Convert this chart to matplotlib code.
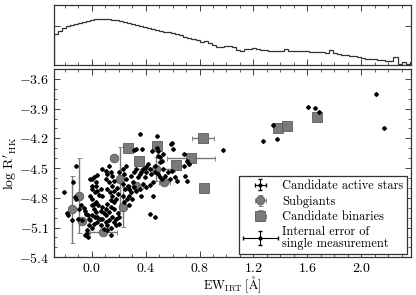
import numpy as np
import matplotlib
matplotlib.use("Agg")
import matplotlib.pyplot as plt
from matplotlib.legend_handler import HandlerErrorbar
from matplotlib.ticker import MultipleLocator, NullFormatter, LogLocator

plt.rcParams['font.family'] = ['cmr10', 'DejaVu Serif']
plt.rcParams['mathtext.fontset'] = 'cm'
plt.rcParams['axes.formatter.use_mathtext'] = True
plt.rcParams['axes.unicode_minus'] = True

# ---------------- data ----------------
hist_start = -0.28
hist_width = 0.03
hist_counts = [40, 58, 80, 100, 120, 136, 150, 170, 190, 212,
               225, 236, 241, 232, 215, 196, 178, 160, 146, 130,
               115, 102, 92, 82, 72, 64, 58, 52, 47, 42,
               38, 33, 29, 25, 22, 19, 15, 17, 14, 11,
               8, 8.5, 9, 9, 8.5, 6, 5.5, 6.5, 7, 7.5,
               7, 6, 6, 5, 5, 5, 5, 7, 5.5, 5.5,
               5, 5, 5, 4.6, 4.5, 4.5, 4.4, 4.3, 6, 4,
               3.7, 3.4, 3.2, 3, 2.8, 2.6, 2.2, 2, 2, 1.9,
               1.8, 1.7, 1.6, 1.6, 2.6, 1.05, 1.4, 1.05, 1.4, 1.1]

active_ew = [-0.204, -0.118, -0.141, -0.128, -0.116, -0.186, -0.179, -0.148, -0.103, -0.073,
             -0.093, -0.078, -0.060, -0.048, -0.040, -0.028, -0.023, -0.010, -0.023, 0.003,
             -0.035, -0.048, -0.028, -0.035, -0.010, 0.003, 0.015, 0.040, 0.028, 0.003,
             0.033, 0.003, 0.023, 0.040, 0.065, 0.053, 0.078, -0.010, 0.003, 0.028,
             0.015, 0.048, 0.073, 0.003, 0.015, 0.033, 0.065, 0.091, 0.103, 0.040,
             0.058, 0.078, 0.103, 0.128, 0.116, 0.015, 0.040, 0.065, 0.091, 0.116,
             0.141, 0.003, 0.023, 0.078, 0.103, 0.116, 0.128, 0.141, 0.153, 0.166,
             0.103, 0.128, 0.153, 0.184, 0.166, 0.191, 0.116, 0.133, 0.153, 0.179,
             0.141, 0.166, 0.116, 0.141, 0.166, 0.191, 0.153, 0.179, 0.204, 0.103,
             0.128, 0.166, 0.204, 0.179, 0.141, 0.204, 0.229, 0.241, 0.254, 0.229,
             0.267, 0.249, 0.279, 0.292, 0.304, 0.317, 0.330, 0.279, 0.259, 0.299,
             0.229, 0.241, 0.274, 0.292, 0.317, 0.330, 0.342, 0.355, 0.367, 0.380,
             0.392, 0.400, 0.405, 0.418, 0.430, 0.443, 0.380, 0.405, 0.430, 0.455,
             0.355, 0.367, 0.254, 0.468, 0.468, 0.493, 0.506, 0.518, 0.531, 0.543,
             0.569, 0.581, 0.594, 0.619, 0.636, 0.506, 0.518, 0.506, 0.526, 0.486,
             0.455, 0.430, 0.468, 0.594, 0.586, 0.606, 0.682, 0.707, 0.682, 0.719,
             0.694, 0.707, 0.360, 0.481, 0.312, 0.330, 0.370, 0.445, 0.488, 0.491,
             0.971, 1.273, 1.349, 1.376, 1.605, 1.658, 1.688, 2.108, 2.166]
active_logr = [-4.737, -4.483, -4.643, -4.793, -4.810, -4.950, -4.977, -5.027, -5.017, -5.027,
               -4.910, -4.877, -4.900, -4.937, -4.960, -4.977, -5.010, -5.027, -5.077, -5.103,
               -5.127, -5.177, -5.193, -5.153, -4.610, -4.610, -4.593, -4.570, -4.643, -4.677,
               -4.677, -4.710, -4.743, -4.727, -4.710, -4.770, -4.777, -4.777, -4.810, -4.843,
               -4.860, -4.877, -4.893, -4.877, -4.910, -4.943, -4.937, -4.950, -4.977, -4.993,
               -5.010, -5.017, -5.043, -5.027, -5.077, -5.060, -5.043, -5.077, -5.110, -5.127,
               -5.103, -4.977, -4.993, -4.510, -4.527, -4.560, -4.477, -4.543, -4.583, -4.627,
               -4.610, -4.643, -4.677, -4.703, -4.727, -4.760, -4.710, -4.743, -4.777, -4.810,
               -4.827, -4.843, -4.860, -4.893, -4.917, -4.950, -4.993, -5.010, -4.993, -4.910,
               -4.943, -5.043, -5.060, -5.077, -5.177, -4.543, -4.510, -4.560, -4.610, -4.660,
               -4.677, -4.710, -4.710, -4.743, -4.643, -4.693, -4.727, -4.777, -4.810, -4.810,
               -4.777, -4.843, -4.877, -4.577, -4.543, -4.510, -4.593, -4.560, -4.537, -4.510,
               -4.593, -4.543, -4.493, -4.460, -4.510, -4.560, -4.660, -4.693, -4.670, -4.643,
               -4.710, -4.777, -4.477, -4.477, -4.543, -4.560, -4.593, -4.610, -4.510, -4.577,
               -4.543, -4.610, -4.527, -4.593, -4.627, -4.443, -4.427, -4.393, -4.360, -4.293,
               -4.777, -4.960, -4.993, -4.243, -4.260, -4.310, -4.360, -4.427, -4.477, -4.460,
               -4.577, -4.627, -4.153, -4.177, -4.320, -4.303, -4.303, -4.323, -4.330, -4.377,
               -4.317, -4.227, -4.067, -4.203, -3.883, -3.897, -3.933, -3.757, -4.093]

sub_ew = [0.166, 0.211, 0.229, 0.085, -0.073, -0.098, -0.149, 0.330, 0.475, 0.538]
sub_logr = [-4.40, -4.61, -4.89, -5.15, -5.033, -4.777, -4.917, -4.677, -4.51, -4.643]
sub_xerr = [0.0, 0.0, 0.0, 0.10, 0.0, 0.0, 0.0, 0.05, 0.14, 0.04]
sub_yerr = [0.0, 0.32, 0.20, 0.0, 0.0, 0.38, 0.34, 0.02, 0.12, 0.02]

bin_ew = [0.825, 0.737, 0.624, 0.833, 0.486, 0.35, 0.267, 1.381, 1.449, 1.675]
bin_logr = [-4.193, -4.40, -4.473, -4.703, -4.277, -4.427, -4.30, -4.093, -4.077, -3.983]
bin_xerr = [0.08, 0.175, 0.0, 0.0, 0.03, 0.03, 0.0, 0.0, 0.0, 0.03]
bin_yerr = [0.01, 0.01, 0.0, 0.0, 0.03, 0.02, 0.0, 0.0, 0.0, 0.03]

ref_err_x = 0.157
ref_err_y = 0.075

labels = ["Candidate active stars", "Subgiants", "Candidate binaries",
          "Internal error of\nsingle measurement"]

xlim = (-0.28, 2.37)
ylim = (-5.4, -3.5)

# ---------------- figure ----------------
fig = plt.figure(figsize=(4.16, 2.95), dpi=100)
ax_h = fig.add_axes([0.130, 0.780, 0.858, 0.203])
ax = fig.add_axes([0.130, 0.128, 0.858, 0.638])

edges = hist_start + hist_width * np.arange(len(hist_counts) + 1)
ax_h.stairs(hist_counts, edges, color='#333333', lw=0.9)
ax_h.set_yscale('log')
ax_h.set_ylim(1, 1230)
ax_h.set_xlim(*xlim)
ax_h.xaxis.set_major_locator(MultipleLocator(0.4))
ax_h.xaxis.set_minor_locator(MultipleLocator(0.1))
ax_h.xaxis.set_major_formatter(NullFormatter())
ax_h.yaxis.set_major_formatter(NullFormatter())
ax_h.yaxis.set_minor_formatter(NullFormatter())
ax_h.yaxis.set_minor_locator(LogLocator(subs=np.arange(2, 10)))

ecol = '#777777'
h1 = ax.errorbar(active_ew, active_logr, xerr=0, yerr=0, fmt='o', ms=2.0,
                 color='black', ecolor='black', elinewidth=0.8, capsize=1.5, zorder=3)
h2 = ax.errorbar(sub_ew, sub_logr, xerr=sub_xerr, yerr=sub_yerr, fmt='o', ms=6.2,
                 mfc='#7a7a7a', mec='#5a5a5a', mew=0.6, ecolor=ecol, elinewidth=1.0,
                 capsize=1.8, zorder=2)
h3 = ax.errorbar(bin_ew, bin_logr, xerr=bin_xerr, yerr=bin_yerr, fmt='s', ms=6.5,
                 mfc='#7a7a7a', mec='#5a5a5a', mew=0.6, ecolor=ecol, elinewidth=1.0,
                 capsize=1.8, zorder=2)
h4 = ax.errorbar([np.nan], [np.nan], xerr=ref_err_x, yerr=ref_err_y, fmt='o', ms=2.0,
                 color='black', ecolor='black', elinewidth=0.8, capsize=1.5)

ax.set_xlim(*xlim)
ax.set_ylim(*ylim)
ax.xaxis.set_major_locator(MultipleLocator(0.4))
ax.xaxis.set_minor_locator(MultipleLocator(0.1))
ax.yaxis.set_major_locator(MultipleLocator(0.3))
ax.yaxis.set_minor_locator(MultipleLocator(0.1))
ax.xaxis.set_major_formatter(matplotlib.ticker.FuncFormatter(
    lambda v, p: r'$%.1f$' % v))
ax.yaxis.set_major_formatter(matplotlib.ticker.FuncFormatter(
    lambda v, p: r'$%.1f$' % v))

for a in (ax, ax_h):
    a.tick_params(which='both', direction='in', top=True, right=True,
                  color='#444444', labelsize=10, pad=3.5)
    a.tick_params(which='major', length=4, width=0.7)
    a.tick_params(which='minor', length=2.2, width=0.6)
    for s in a.spines.values():
        s.set_color('#333333')
        s.set_linewidth(0.9)

ax.set_xlabel(r'$\mathrm{EW}_{\mathrm{IRT}}\;[\mathrm{\AA}]$', fontsize=9.0)
ax.xaxis.set_label_coords(0.5, -0.094)
ax.set_ylabel(r"$\log\,\mathrm{R}'_{\mathrm{HK}}$", fontsize=10, labelpad=0)

leg = ax.legend([h1, h2, h3, h4], labels, loc='lower right', fontsize=8.9,
                handlelength=2.8, handletextpad=0.4, labelspacing=0.25,
                borderaxespad=0.3, borderpad=0.3, fancybox=False, framealpha=1,
                edgecolor='#333333', numpoints=1,
                handler_map={h1: HandlerErrorbar(xerr_size=0.45),
                             h2: HandlerErrorbar(xerr_size=0.45),
                             h3: HandlerErrorbar(xerr_size=0.45),
                             h4: HandlerErrorbar(xerr_size=1.4, yerr_size=0.55)})
leg.get_frame().set_linewidth(0.9)
leg.get_texts()[3].set_linespacing(0.95)

fig.savefig('out.png', dpi=100)
